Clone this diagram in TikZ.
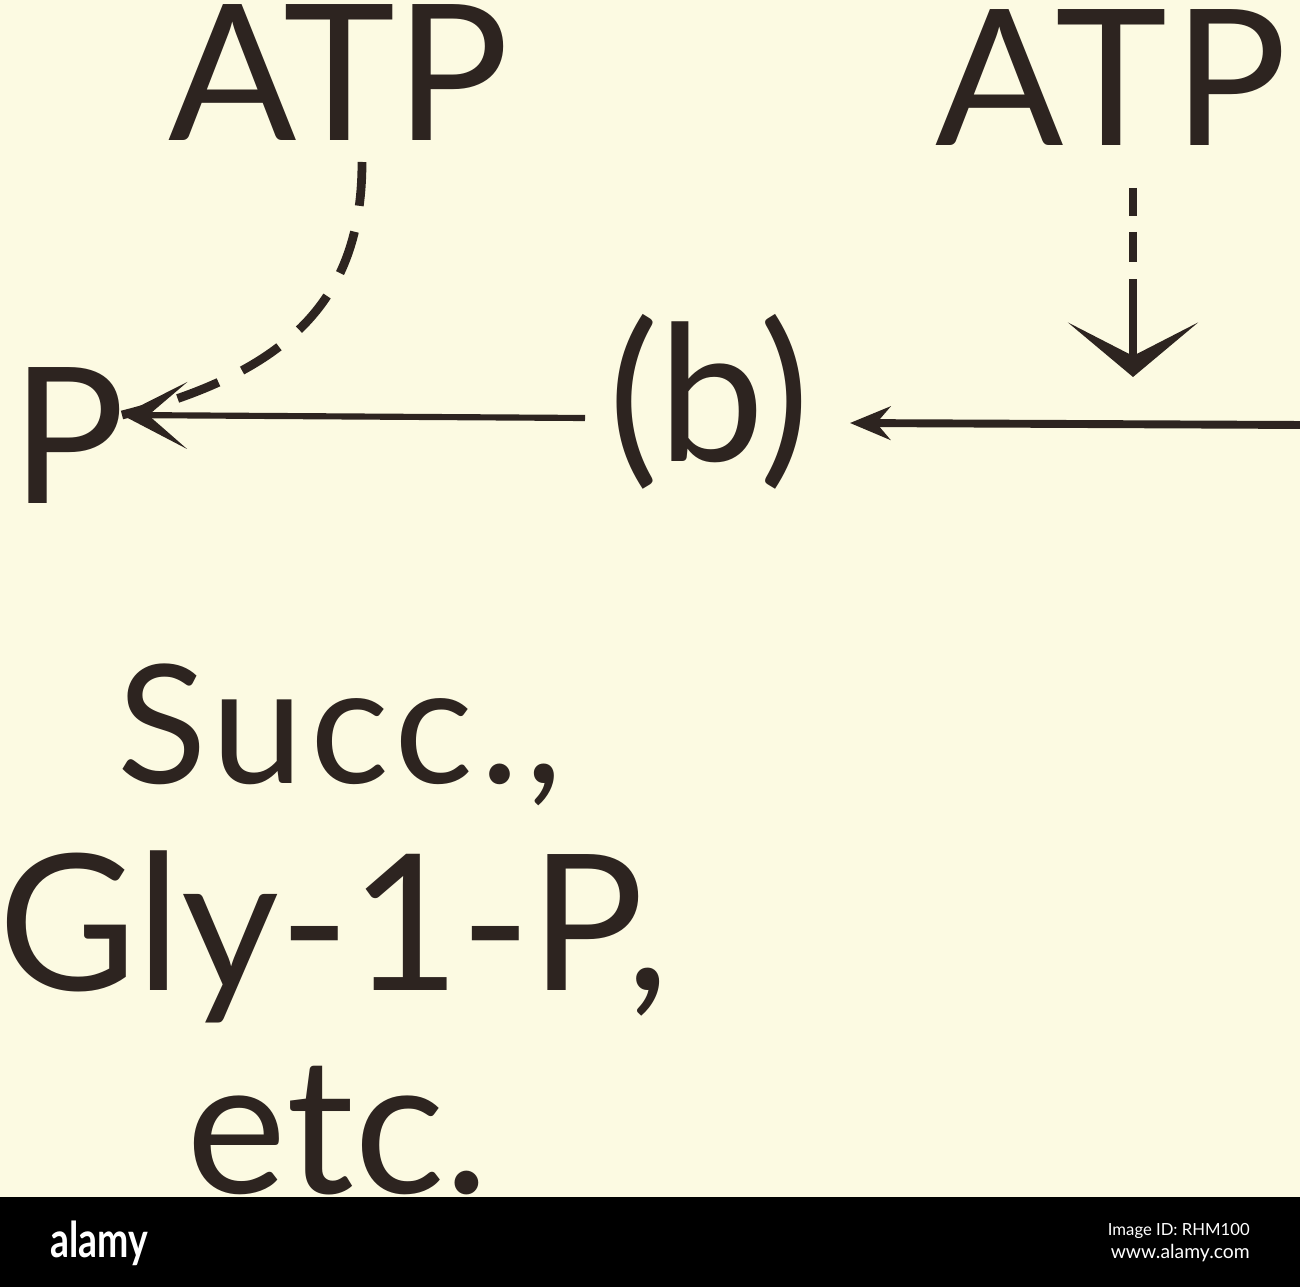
\documentclass[tikz,border=0pt]{standalone}
\usepackage{fontspec}
\setmainfont{Lato}
\usetikzlibrary{arrows.meta}
\definecolor{paper}{RGB}{252,250,226}
\definecolor{ink}{RGB}{45,36,32}

\begin{document}
\begin{tikzpicture}[x=0.02cm,y=-0.02cm,
    lbl/.style={inner sep=0pt,outer sep=0pt,text=ink,font=\fontsize{108}{120}\selectfont},
    smlbl/.style={lbl,font=\fontsize{94}{110}\selectfont\addfontfeature{LetterSpace=4}},
    rxn/.style={draw=ink,line width=3.5pt},
    dashrxn/.style={rxn,line width=5pt},
    stamp/.style={inner sep=0pt,text=white}]
    \useasboundingbox (0,0) rectangle (1300,1287);
    \fill[paper] (0,0) rectangle (1300,1287);

    \node[lbl,anchor=base west] (atpl) at (168,141) {ATP};
    \node[lbl,anchor=base west,font=\fontsize{108}{120}\selectfont\addfontfeature{LetterSpace=3}] (atpr) at (935,146) {ATP};
    \node[lbl,anchor=base west] (pl) at (11,503) {P};
    \node[lbl,anchor=base west] (bnode) at (608,461) {(b)};
    \node[smlbl,anchor=base] (succ) at (340,783) {Succ.,};
    \node[lbl,anchor=base] (gly) at (334,990) {Gly-1-P,};
    \node[lbl,anchor=base] (etc) at (338,1193) {etc.};

    \coordinate (atplv) at (362,162);
    \coordinate (atprv) at (1133,188);
    \coordinate (tipl) at (122,415);
    \coordinate (tipr) at (1133,377);
    \coordinate (bl) at (585,418);
    \coordinate (br) at (850,423);
    \coordinate (rin) at (1305,425);

    \draw[rxn,-{Stealth[length=37pt,width=38pt,inset=22pt]}] (bl) -- (tipl);
    \draw[dashrxn,dash pattern=on 25pt off 15pt]
        (atplv) .. controls (362,290) and (300,370) .. (tipl);
    \draw[rxn,line width=4.5pt,-{Stealth[length=23pt,width=19pt,inset=8pt]}] (rin) -- (br);
    \draw[dashrxn,dash pattern=on 16pt off 9pt on 17pt off 10pt on 80pt,
        -{Stealth[length=31pt,width=74pt,inset=19pt]}] (atprv) -- (tipr);

    % bottom strip
    \fill[black] (0,1197) rectangle (1300,1287);
    \node[stamp,anchor=base west,xscale=0.76,font=\bfseries\fontsize{28}{30}\selectfont] (logo) at (50,1257) {alamy};
    \node[stamp,anchor=base east,font=\fontsize{9.5}{10}\selectfont] (imgid) at (1250,1235) {Image ID: RHM100};
    \node[stamp,anchor=base east,font=\fontsize{11}{12}\selectfont] (www) at (1250,1258) {www.alamy.com};
\end{tikzpicture}
\end{document}
